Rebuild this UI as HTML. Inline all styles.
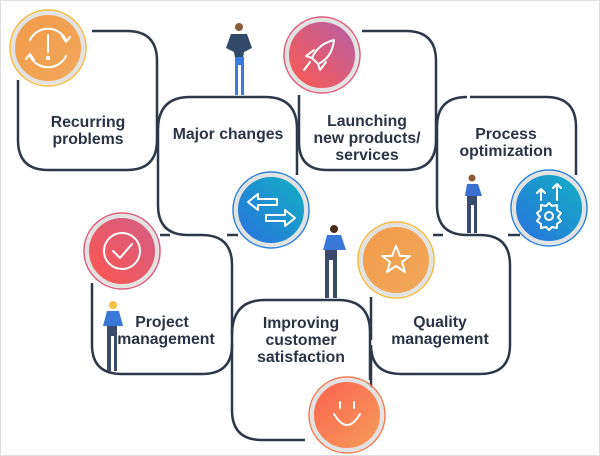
<!DOCTYPE html>
<html><head><meta charset="utf-8"><style>
html,body{margin:0;padding:0;background:#fff;}
svg{display:block}
text{font-family:"Liberation Sans",sans-serif;font-weight:bold;font-size:15.8px;fill:#2a3444;text-anchor:middle}
</style></head><body>
<svg width="600" height="456" viewBox="0 0 600 456">
<defs>
<linearGradient id="gO" x1="0" y1="0" x2="1" y2="1"><stop offset="0" stop-color="#f39a4a"/><stop offset="1" stop-color="#f0a85a"/></linearGradient>
<linearGradient id="gR" x1="0" y1="1" x2="1" y2="0"><stop offset="0" stop-color="#ff5a4c"/><stop offset="1" stop-color="#b45fa8"/></linearGradient>
<linearGradient id="gB" x1="0" y1="1" x2="1" y2="0"><stop offset="0" stop-color="#2a6fdc"/><stop offset="1" stop-color="#12b3c4"/></linearGradient>
<linearGradient id="gS" x1="0" y1="0" x2="1" y2="1"><stop offset="0" stop-color="#fd5f4e"/><stop offset="1" stop-color="#f4a05a"/></linearGradient>
<linearGradient id="gP" x1="0" y1="1" x2="1" y2="0"><stop offset="0" stop-color="#ff554c"/><stop offset="1" stop-color="#d05f88"/></linearGradient>
</defs>
<rect x="0.5" y="0.5" width="599" height="455" fill="none" stroke="#ddd"/>
<g fill="none" stroke="#2d3848" stroke-width="2.5">
<path d="M92,31 H127 Q157,31 157,61 V140 Q157,170 127,170 H48 Q18,170 18,140 V80"/>
<path d="M158,130 Q158,97 190,97 H265 Q297,97 297,129 V175"/>
<path d="M158,130 V205 Q158,235 188,235"/>
<line x1="160" y1="235" x2="170" y2="235"/><line x1="227" y1="235" x2="238" y2="235"/>
<path d="M362,31 H406 Q436,31 436,61 V140 Q436,170 406,170 H327 Q299,170 299,142 V95"/>
<path d="M470,97 H546 Q576,97 576,127 V175"/>
<path d="M437,127 Q437,97 467,97"/>
<path d="M437,127 V205 Q437,235 467,235 H480 Q510,235 510,265 V345 Q510,374 480,374 H401 Q371,374 371,345 V395"/>
<line x1="433" y1="235" x2="443" y2="235"/><line x1="508" y1="235" x2="520" y2="235"/>
<path d="M188,235 H202 Q232,235 232,265 V345 Q232,374 202,374 H122 Q92,374 92,345 V283"/>
<path d="M232,343 V410 Q232,440 262,440 H305"/>
<path d="M232,335 Q232,300 265,300 H338 Q370,300 370,332 V380"/>
<path d="M371,297 V340"/>
</g>
<g stroke="#e2e2e2" stroke-width="4">
<circle cx="48" cy="48" r="35" fill="url(#gO)"/>
<circle cx="322" cy="55" r="35" fill="url(#gR)"/>
<circle cx="271" cy="210" r="35" fill="url(#gB)"/>
<circle cx="549" cy="208" r="35" fill="url(#gB)"/>
<circle cx="122" cy="251" r="35" fill="url(#gP)"/>
<circle cx="396" cy="260" r="35" fill="url(#gO)"/>
<circle cx="347" cy="415" r="35" fill="url(#gS)"/>
</g>
<g fill="none" stroke-width="1.5">
<circle cx="48" cy="48" r="38" stroke="#f6b73a"/>
<circle cx="322" cy="55" r="38" stroke="#e05a7a"/>
<circle cx="271" cy="210" r="38" stroke="#2a80d8"/>
<circle cx="549" cy="208" r="38" stroke="#2a80d8"/>
<circle cx="122" cy="251" r="38" stroke="#e0587a"/>
<circle cx="396" cy="260" r="38" stroke="#f6b73a"/>
<circle cx="347" cy="415" r="38" stroke="#f27a50"/>
</g>
<g fill="none" stroke="#fff" stroke-width="2" stroke-linecap="round" stroke-linejoin="round">
<path d="M30,40 A20,20 0 0 1 66,40 M66,56 A20,20 0 0 1 30,56"/>
<path d="M62,36 L66,42 L70,37 M34,60 L30,54 L26,59"/>
<line x1="48" y1="35" x2="48" y2="52"/><circle cx="48" cy="58" r="1.2"/>
<path d="M334,40 Q318,44 312,58 L318,64 Q332,58 334,40Z M312,58 L306,56 L314,50 M318,64 L320,70 L326,62 M310,62 L304,70"/>
<path d="M248,202 L258,194 V199 H277 V205 H258 V210Z"/>
<path d="M295,218 L285,210 V215 H266 V221 H285 V226Z"/>
<circle cx="549" cy="216" r="4"/>
<path d="M549,203 L552,206 L557,205 L557,210 L561,213 L558,217 L561,221 L557,224 L557,228 L552,227 L549,230 L546,227 L541,228 L541,224 L537,221 L540,217 L537,213 L541,210 L541,205 L546,206Z"/>
<path d="M541,200 V190 M537,193 L541,189 L545,193 M557,200 V184 M553,188 L557,184 L561,188"/>
<circle cx="122" cy="251" r="18"/><path d="M113,251 L120,258 L132,244"/>
<path d="M396,246 L400,256 L410,256 L402,262 L405,272 L396,266 L387,272 L390,262 L382,256 L392,256Z"/>
<path d="M340,402 V408 M354,402 V408 M334,414 Q347,436 360,414"/>
</g>
<g>
<circle cx="239" cy="27" r="4" fill="#8a5a3a"/>
<path d="M231,34 L247,34 L252,48 L244,52 L243,58 L235,58 L234,52 L226,48Z" fill="#33496a"/>
<path d="M235,57 h9 v38 h-3 v-30 h-3 v30 h-3Z" fill="#3a7bdc"/>
<circle cx="472" cy="178" r="3.5" fill="#8a5a3a"/>
<path d="M467,184 H478 L482,196 H465Z" fill="#3a70d0"/>
<path d="M467,196 h10 v37 h-3 v-28 h-3 v28 h-4Z" fill="#3a4a6a"/>
<circle cx="334" cy="229" r="4" fill="#4a2a1a"/>
<path d="M327,235 H341 L346,250 H323Z" fill="#3a78d8"/>
<path d="M325,250 h12 v48 h-4 v-38 h-4 v38 h-4Z" fill="#3a4a6a"/>
<circle cx="113" cy="305" r="4" fill="#f5c04a"/>
<path d="M107,311 H119 L123,326 H103Z" fill="#3a78d8"/>
<path d="M107,326 h10 v45 h-3 v-35 h-3 v35 h-4Z" fill="#3a4a6a"/>
</g>
<text x="88" y="127">Recurring</text><text x="88" y="144">problems</text>
<text x="228" y="139">Major changes</text>
<text x="367" y="126">Launching</text><text x="367" y="143">new products/</text><text x="367" y="160">services</text>
<text x="506" y="139">Process</text><text x="506" y="156">optimization</text>
<text x="162" y="327">Project</text><text x="166" y="344">management</text>
<text x="301" y="328">Improving</text><text x="301" y="345">customer</text><text x="301" y="362">satisfaction</text>
<text x="440" y="327">Quality</text><text x="440" y="344">management</text>
</svg>
</body></html>
